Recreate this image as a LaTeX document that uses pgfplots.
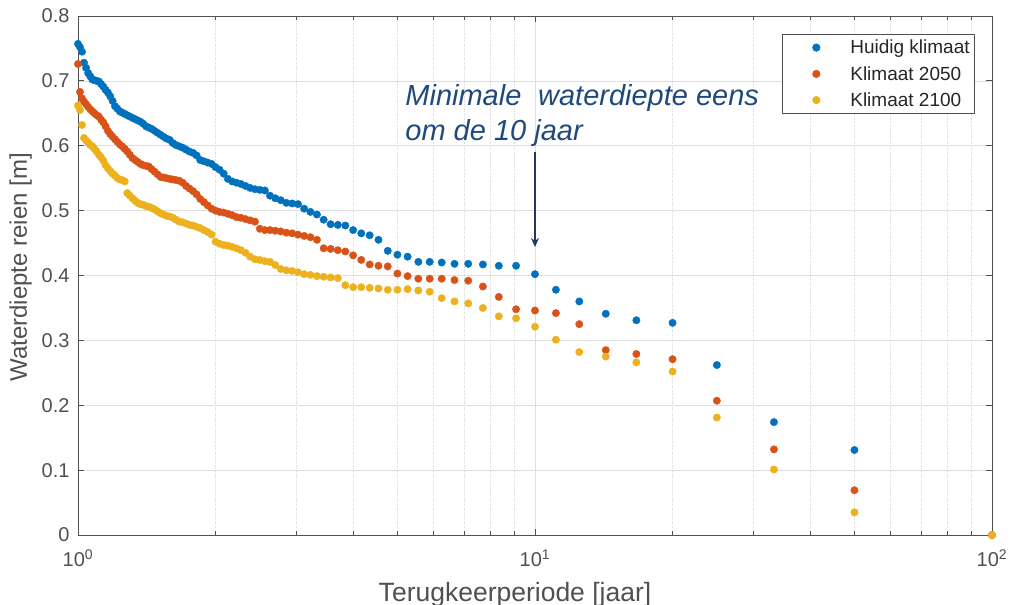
\documentclass[border=0pt]{standalone}
\usepackage{fontspec}
\setmainfont{Liberation Sans}
\usepackage{pgfplots}
\pgfplotsset{compat=1.18}
\usepackage{pgfplotstable}
\usetikzlibrary{arrows.meta}
\definecolor{mblue}{rgb}{0,0.447,0.741}
\definecolor{mred}{rgb}{0.850,0.325,0.098}
\definecolor{myellow}{rgb}{0.929,0.694,0.125}
\definecolor{axgray}{RGB}{80,80,80}
\definecolor{gridgray}{RGB}{222,222,222}
\definecolor{annot}{RGB}{31,73,125}
\definecolor{arrowc}{RGB}{32,56,100}

\pgfplotstableread{
T huidig k2050 k2100
100 0 0 0
50 0.131 0.069 0.035
33.333 0.174 0.132 0.101
25 0.262 0.207 0.181
20 0.327 0.271 0.252
16.667 0.331 0.279 0.266
14.286 0.341 0.285 0.275
12.5 0.360 0.325 0.282
11.111 0.378 0.342 0.301
10 0.402 0.346 0.321
9.0909 0.415 0.348 0.334
8.3333 0.415 0.367 0.337
7.6923 0.417 0.383 0.350
7.1429 0.418 0.392 0.357
6.6667 0.418 0.393 0.360
6.25 0.420 0.395 0.365
5.8824 0.421 0.395 0.375
5.5556 0.421 0.395 0.377
5.2632 0.429 0.399 0.379
5 0.432 0.403 0.378
4.7619 0.438 0.414 0.378
4.5455 0.455 0.415 0.380
4.3478 0.462 0.417 0.381
4.1667 0.465 0.424 0.382
4 0.470 0.431 0.382
3.8462 0.477 0.437 0.385
3.7037 0.478 0.439 0.396
3.5714 0.479 0.441 0.397
3.4483 0.486 0.442 0.398
3.3333 0.494 0.455 0.399
3.2258 0.498 0.459 0.401
3.125 0.503 0.461 0.402
3.0303 0.510 0.463 0.405
2.9412 0.511 0.465 0.407
2.8571 0.512 0.466 0.408
2.7778 0.516 0.468 0.410
2.7027 0.519 0.469 0.416
2.6316 0.523 0.470 0.421
2.5641 0.531 0.470 0.422
2.5 0.532 0.472 0.424
2.439 0.533 0.483 0.425
2.381 0.535 0.485 0.429
2.3256 0.538 0.487 0.435
2.2727 0.541 0.489 0.439
2.2222 0.543 0.490 0.442
2.1739 0.545 0.493 0.444
2.1277 0.549 0.495 0.446
2.0833 0.557 0.497 0.447
2.0408 0.563 0.498 0.449
2 0.567 0.500 0.452
1.9608 0.572 0.503 0.463
1.9231 0.574 0.508 0.467
1.8868 0.576 0.513 0.470
1.8519 0.578 0.518 0.473
1.8182 0.585 0.525 0.475
1.7857 0.589 0.530 0.477
1.7544 0.591 0.534 0.478
1.7241 0.594 0.538 0.480
1.6949 0.597 0.543 0.482
1.6667 0.599 0.546 0.483
1.6393 0.601 0.547 0.486
1.6129 0.604 0.548 0.489
1.5873 0.609 0.549 0.491
1.5625 0.611 0.550 0.492
1.5385 0.614 0.551 0.494
1.5152 0.617 0.552 0.496
1.4925 0.620 0.556 0.499
1.4706 0.623 0.560 0.502
1.4493 0.626 0.564 0.504
1.4286 0.628 0.568 0.506
1.4085 0.630 0.569 0.507
1.3889 0.634 0.570 0.509
1.3699 0.637 0.572 0.510
1.3514 0.639 0.575 0.512
1.3333 0.641 0.578 0.515
1.3158 0.643 0.581 0.519
1.2987 0.645 0.586 0.523
1.2821 0.647 0.591 0.527
1.2658 0.649 0.595 0.545
1.25 0.651 0.599 0.547
1.2346 0.653 0.602 0.548
1.2195 0.657 0.606 0.550
1.2048 0.661 0.610 0.554
1.1905 0.669 0.614 0.557
1.1765 0.676 0.618 0.561
1.1628 0.682 0.623 0.565
1.1494 0.686 0.630 0.570
1.1364 0.691 0.636 0.577
1.1236 0.695 0.640 0.582
1.1111 0.699 0.645 0.586
1.0989 0.700 0.647 0.591
1.087 0.701 0.650 0.595
1.0753 0.702 0.653 0.599
1.0638 0.707 0.656 0.601
1.0526 0.712 0.660 0.605
1.0417 0.720 0.664 0.608
1.0309 0.728 0.668 0.612
1.0204 0.745 0.673 0.632
1.0101 0.752 0.683 0.655
1 0.757 0.726 0.662
}\datatable

\pgfplotsset{lgimg/.style={legend image code/.code={\path[draw=none,fill=none] (0pt,0pt) (63pt,0pt); \draw[mark repeat=2,mark phase=2,##1] plot coordinates {(0pt,0pt) (31pt,0pt) (62pt,0pt)};}}}

\begin{document}
\begin{tikzpicture}
\begin{axis}[name=ax, scale only axis, width=914pt, height=519pt,
  xmode=log, xmin=1, xmax=100, ymin=0, ymax=0.8,
  xtick={1,10,100},
  xticklabels={10\textsuperscript{0},10\textsuperscript{1},10\textsuperscript{2}},
  minor xtick={2,3,4,5,6,7,8,9,20,30,40,50,60,70,80,90},
  ytick={0,0.1,0.2,0.3,0.4,0.5,0.6,0.7,0.8},
  yticklabels={0,0.1,0.2,0.3,0.4,0.5,0.6,0.7,0.8},
  tick label style={font=\fontsize{20}{20}\selectfont, text=axgray},
  xticklabel style={yshift=-11pt},
  yticklabel style={xshift=-5pt},
  axis line style={axgray, line width=0.9pt},
  tick style={axgray, line width=0.8pt},
  major tick length=6pt, minor tick length=4pt, tick align=inside,
  xmajorgrids=true, ymajorgrids=true, xminorgrids=true,
  major grid style={gridgray, line width=0.7pt},
  minor grid style={gridgray, line width=0.7pt, densely dotted},
  xlabel={Terugkeerperiode [jaar]},
  ylabel={Waterdiepte reien [m]},
  xlabel style={font=\fontsize{26.5}{26.5}\selectfont, text=axgray, at={(axis description cs:0.5,0)}, anchor=north, inner sep=0pt, yshift=-47pt, xshift=-20pt},
  ylabel style={font=\fontsize{24}{24}\selectfont, text=axgray, at={(axis description cs:0,0.5)}, anchor=south, inner sep=0pt, yshift=46pt, xshift=8pt},
  legend style={at={(0.9814,0.966)}, anchor=north east, draw=axgray, line width=0.7pt,
    font=\fontsize{19}{19}\selectfont, text=black!85, inner xsep=3pt, inner ysep=4pt, row sep=7pt},
  legend cell align=left,
  clip=false,
]
\addplot[only marks, mark=*, mark size=3.7pt, color=mblue, lgimg] table[x=T, y=huidig] {\datatable};
\addlegendentry{Huidig klimaat}
\addplot[only marks, mark=*, mark size=3.7pt, color=mred, lgimg] table[x=T, y=k2050] {\datatable};
\addlegendentry{Klimaat 2050}
\addplot[only marks, mark=*, mark size=3.7pt, color=myellow, lgimg] table[x=T, y=k2100] {\datatable};
\addlegendentry{Klimaat 2100}
\node[anchor=north west, inner sep=0pt, align=left, font=\fontsize{29}{35}\selectfont\itshape, text=annot] at (axis cs:5.2,0.695) {Minimale\hspace{0.3em} waterdiepte eens\\om de 10 jaar};
\draw[-{Stealth[length=9pt,width=8pt]}, arrowc, line width=1.1pt] (axis cs:10,0.59) -- (axis cs:10,0.444);
\end{axis}
\pgfresetboundingbox
\path[use as bounding box] ([shift={(-78pt,-70pt)}]ax.south west) rectangle ([shift={(19pt,16pt)}]ax.north east);
\end{tikzpicture}
\end{document}
